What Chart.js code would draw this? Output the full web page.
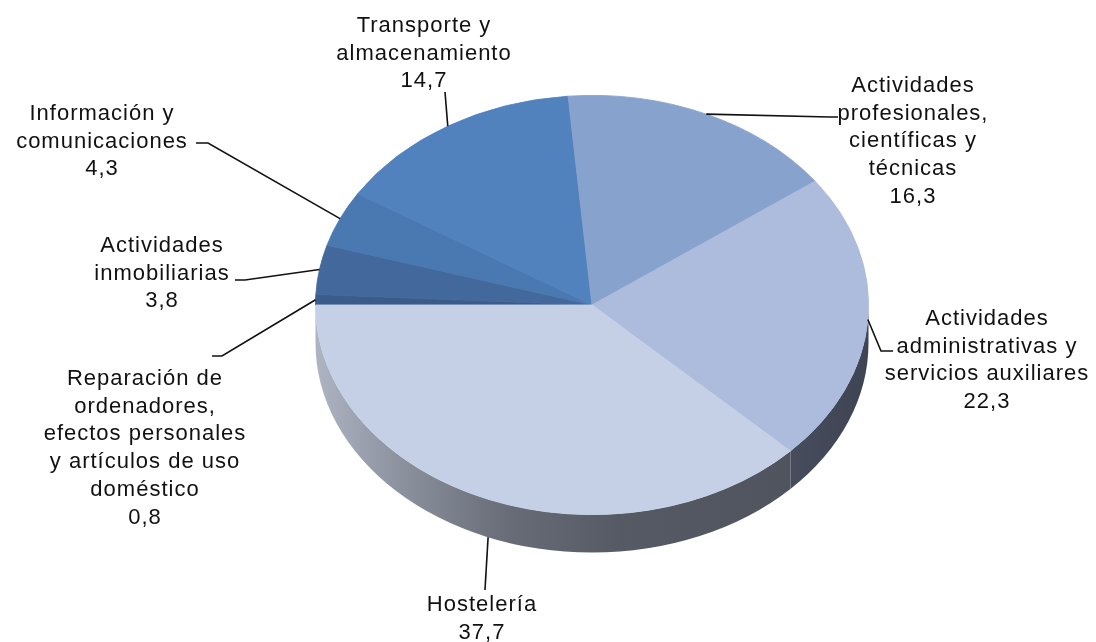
<!DOCTYPE html>
<html>
<head>
<meta charset="utf-8">
<script src="https://cdn.jsdelivr.net/npm/chart.js@4.4.1/dist/chart.umd.min.js"></script>
<style>
body { margin: 0; background: #fff; }
canvas { display: block; }
</style>
</head>
<body>
<canvas id="myChart" width="1096" height="642"></canvas>
<script>
// data, clockwise from 9 o'clock
var categories = [
    'Reparación de ordenadores, efectos personales y artículos de uso doméstico',
    'Actividades inmobiliarias',
    'Información y comunicaciones',
    'Transporte y almacenamiento',
    'Actividades profesionales, científicas y técnicas',
    'Actividades administrativas y servicios auxiliares',
    'Hostelería'
];
var values = [0.8, 3.8, 4.3, 14.7, 16.3, 22.3, 37.7];
var labelLines = [
    ['Reparación de', 'ordenadores,', 'efectos personales', 'y artículos de uso', 'doméstico'],
    ['Actividades', 'inmobiliarias'],
    ['Información y', 'comunicaciones'],
    ['Transporte y', 'almacenamiento'],
    ['Actividades', 'profesionales,', 'científicas y', 'técnicas'],
    ['Actividades', 'administrativas y', 'servicios auxiliares'],
    ['Hostelería']
];
var sliceColors = ['#3B5B8A', '#43699C', '#4A78B0', '#5182BE', '#87A2CD', '#ADBCDD', '#C5D0E6'];

// layout of the tilted pie and its labels
var CENTER_Y = 305, TILT = 0.758, DEPTH = 38, LINE_H = 27.7;
var labelPos = [
    { x: 145, y: 385, path: [[222, 356], [212, 356]] },
    { x: 162, y: 252, path: [[245, 280], [235, 280]] },
    { x: 102, y: 120, path: [[208, 143], [196, 143]] },
    { x: 424, y: 32, path: [[445, 92]] },
    { x: 913, y: 92, path: [[830, 117], [838, 117]] },
    { x: 987, y: 325, path: [[881, 351], [893, 351]] },
    { x: 482, y: 611, path: [[485, 590]] }
];
var sideStops = {
    5: [[0, '#6A7080'], [0.8, '#4A5060'], [1, '#3E4452']],
    6: [[0, '#AEB4C2'], [0.15, '#8C929E'], [0.35, '#676C77'], [0.55, '#555A64'], [1, '#4D515B']]
};

var tiltPlugin = {
    id: 'tilt',
    beforeDatasetsDraw: function (chart) {
        var ctx = chart.ctx;
        var arcs = chart.getDatasetMeta(0).data;
        var cx = arcs[0].x, cy = arcs[0].y, r = arcs[0].outerRadius, ry = r * TILT;
        // side wall of the front half
        ctx.save();
        arcs.forEach(function (arc, i) {
            var s = Math.max(arc.startAngle, 0), e = Math.min(arc.endAngle, Math.PI);
            if (e <= s) return;
            var g = ctx.createLinearGradient(cx - r, 0, cx + r, 0);
            (sideStops[i] || [[0, '#555'], [1, '#444']]).forEach(function (st) {
                g.addColorStop(st[0], st[1]);
            });
            ctx.beginPath();
            ctx.ellipse(cx, CENTER_Y, r, ry, 0, s, e);
            ctx.ellipse(cx, CENTER_Y + DEPTH, r, ry, 0, e, s, true);
            ctx.closePath();
            ctx.fillStyle = g;
            ctx.fill();
        });
        ctx.restore();
        // squash the top face into an ellipse
        ctx.save();
        ctx.translate(0, CENTER_Y - cy * TILT);
        ctx.scale(1, TILT);
    },
    afterDatasetsDraw: function (chart) {
        var ctx = chart.ctx;
        ctx.restore();
        var arcs = chart.getDatasetMeta(0).data;
        var cx = arcs[0].x, r = arcs[0].outerRadius, ry = r * TILT;
        ctx.save();
        ctx.strokeStyle = '#111';
        ctx.lineWidth = 1.6;
        ctx.fillStyle = '#111';
        ctx.font = '22px "Liberation Sans", Arial, sans-serif';
        ctx.textAlign = 'center';
        ctx.textBaseline = 'alphabetic';
        ctx.letterSpacing = '1px';
        arcs.forEach(function (arc, i) {
            var m = (arc.startAngle + arc.endAngle) / 2;
            var ax = cx + r * Math.cos(m);
            var ay = CENTER_Y + ry * Math.sin(m) + (Math.sin(m) > 0.5 ? DEPTH : 0);
            var p = labelPos[i];
            ctx.beginPath();
            ctx.moveTo(ax, ay);
            p.path.forEach(function (pt) { ctx.lineTo(pt[0], pt[1]); });
            ctx.stroke();
            var lines = labelLines[i].concat([values[i].toFixed(1).replace('.', ',')]);
            lines.forEach(function (t, k) {
                ctx.fillText(t, p.x, p.y + k * LINE_H);
            });
        });
        ctx.restore();
    }
};

var ctx = document.getElementById('myChart').getContext('2d');
var myChart = new Chart(ctx, {
    type: 'pie',
    data: {
        labels: categories,
        datasets: [{
            data: values,
            backgroundColor: sliceColors,
            borderColor: sliceColors,
            borderWidth: 1
        }]
    },
    options: {
        responsive: false,
        animation: false,
        events: [],
        rotation: -90,
        layout: { padding: { left: 315, right: 227, top: 0, bottom: 0 } },
        plugins: {
            legend: { display: false },
            tooltip: { enabled: false }
        }
    },
    plugins: [tiltPlugin]
});
</script>
</body>
</html>
